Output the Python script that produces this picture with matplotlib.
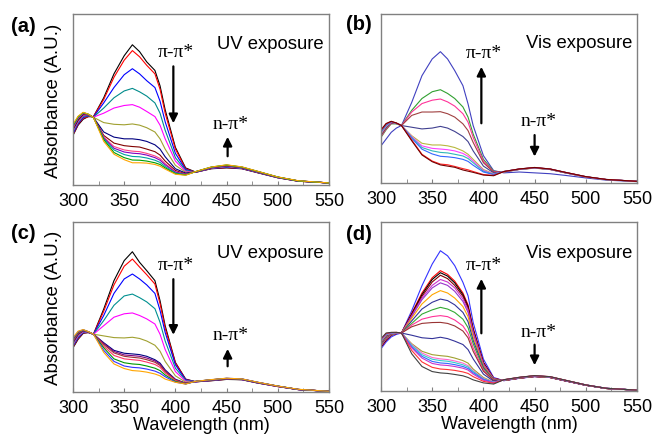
import matplotlib.pyplot as plt

# wavelength grid (nm) shared by every spectrum
wl = [300, 305, 310, 315, 320, 330, 340, 350, 358, 365, 372, 380, 385, 390,
      400, 410, 420, 435, 450, 465, 480, 500, 520, 550]

# (a) UV exposure
spec_a = [
    [.29, .35, .385, .40, .40, .51, .65, .756, .82, .78, .72, .67, .58, .44, .22, .10, .075, .095, .10, .095, .072, .042, .022, .012],
    [.295, .355, .39, .40, .40, .50, .63, .73, .786, .75, .70, .65, .56, .42, .21, .095, .075, .096, .102, .096, .073, .043, .022, .012],
    [.30, .36, .395, .405, .398, .48, .57, .645, .68, .65, .61, .57, .49, .37, .185, .09, .075, .097, .104, .097, .074, .043, .023, .012],
    [.31, .365, .40, .405, .397, .45, .51, .55, .565, .545, .52, .48, .42, .32, .16, .085, .076, .098, .106, .098, .075, .044, .023, .012],
    [.315, .37, .405, .408, .397, .42, .45, .465, .47, .455, .43, .40, .35, .27, .14, .08, .076, .099, .108, .099, .076, .044, .023, .012],
    [.32, .375, .41, .41, .396, .365, .355, .352, .357, .35, .335, .31, .27, .21, .115, .075, .077, .10, .11, .10, .077, .045, .023, .012],
    [.325, .38, .412, .41, .395, .31, .28, .27, .27, .265, .255, .235, .21, .165, .095, .07, .077, .101, .112, .101, .078, .045, .023, .012],
    [.33, .385, .415, .412, .395, .29, .245, .23, .225, .222, .21, .195, .175, .14, .085, .065, .077, .102, .113, .102, .078, .045, .024, .012],
    [.335, .39, .418, .412, .395, .28, .225, .205, .198, .195, .185, .17, .155, .125, .078, .063, .078, .103, .114, .103, .079, .046, .024, .012],
    [.34, .393, .42, .413, .395, .275, .215, .193, .186, .183, .175, .16, .145, .118, .075, .062, .078, .103, .115, .104, .079, .046, .024, .012],
    [.345, .396, .422, .413, .395, .27, .205, .178, .167, .165, .158, .145, .132, .108, .07, .06, .078, .104, .116, .104, .08, .046, .024, .012],
    [.35, .40, .424, .414, .395, .265, .19, .16, .146, .145, .14, .13, .12, .10, .066, .058, .079, .105, .117, .105, .08, .047, .024, .012],
    [.355, .402, .425, .414, .395, .255, .18, .148, .13, .13, .128, .12, .11, .093, .063, .057, .079, .105, .118, .106, .081, .047, .025, .012],
]
colors_a = ['black', 'red', 'blue', '#008b8b', 'magenta', '#a0a030', '#000080',
            '#800000', '#ff4080', '#8000c0', '#00a0a0', '#00a000', '#ffa500']

# (b) Vis exposure
spec_b = [
    [.22, .26, .30, .325, .34, .477, .635, .734, .777, .734, .665, .576, .468, .34, .162, .073, .06, .065, .06, .055, .045, .03, .017, .008],
    [.27, .315, .35, .35, .34, .43, .50, .54, .552, .53, .50, .45, .39, .29, .14, .07, .065, .08, .088, .08, .06, .036, .02, .01],
    [.275, .32, .352, .352, .34, .42, .47, .49, .497, .48, .455, .41, .36, .27, .13, .067, .066, .08, .089, .08, .06, .036, .02, .01],
    [.28, .325, .355, .352, .34, .40, .42, .42, .422, .41, .39, .35, .31, .24, .12, .064, .066, .081, .089, .081, .061, .036, .02, .01],
    [.285, .33, .357, .353, .34, .33, .32, .325, .335, .325, .305, .275, .245, .19, .10, .06, .067, .081, .09, .081, .061, .036, .02, .01],
    [.29, .335, .36, .353, .34, .28, .235, .225, .225, .22, .21, .19, .17, .14, .08, .055, .067, .082, .09, .082, .062, .037, .02, .01],
    [.295, .338, .36, .354, .34, .275, .22, .205, .201, .197, .19, .175, .158, .13, .075, .053, .067, .082, .09, .082, .062, .037, .02, .01],
    [.30, .34, .362, .354, .34, .27, .21, .19, .181, .178, .17, .16, .145, .12, .07, .051, .068, .082, .09, .082, .062, .037, .02, .01],
    [.305, .345, .362, .354, .34, .265, .20, .172, .158, .155, .15, .14, .128, .105, .065, .05, .068, .083, .091, .083, .063, .037, .021, .01],
    [.31, .35, .364, .355, .34, .255, .17, .13, .112, .108, .098, .085, .078, .068, .05, .045, .068, .083, .091, .083, .063, .037, .021, .01],
    [.315, .352, .365, .355, .34, .25, .166, .126, .107, .10, .093, .077, .07, .063, .047, .043, .068, .083, .092, .083, .063, .038, .021, .01],
]
colors_b = ['#4040c0', '#30a030', '#ff3399', '#a04040', '#404090', '#b8b840',
            '#ff40ff', '#30b8b8', '#3366ff', '#ff2020', '#700000']

# (c) UV exposure
spec_c = [
    [.26, .31, .345, .35, .34, .488, .655, .773, .825, .763, .714, .655, .537, .39, .174, .076, .06, .066, .074, .072, .053, .032, .014, .004],
    [.265, .315, .348, .35, .34, .475, .63, .74, .782, .735, .69, .635, .52, .375, .17, .074, .06, .067, .075, .073, .054, .032, .014, .004],
    [.27, .32, .35, .35, .34, .45, .58, .665, .694, .665, .63, .58, .48, .35, .16, .072, .06, .068, .076, .073, .054, .033, .014, .004],
    [.275, .325, .352, .351, .34, .42, .51, .565, .576, .555, .53, .49, .41, .30, .14, .068, .061, .069, .077, .074, .055, .033, .015, .004],
    [.28, .33, .355, .351, .34, .39, .44, .46, .465, .45, .43, .40, .34, .25, .12, .064, .061, .07, .078, .074, .055, .033, .015, .004],
    [.285, .335, .358, .352, .34, .33, .32, .318, .322, .315, .30, .275, .24, .18, .095, .058, .062, .07, .078, .075, .056, .034, .015, .004],
    [.29, .34, .36, .352, .34, .29, .245, .228, .224, .22, .21, .19, .17, .13, .075, .052, .062, .071, .079, .075, .056, .034, .015, .004],
    [.295, .343, .362, .353, .34, .285, .238, .218, .214, .21, .20, .183, .163, .125, .072, .051, .062, .071, .079, .075, .056, .034, .015, .004],
    [.30, .346, .363, .353, .34, .28, .23, .21, .204, .20, .19, .175, .156, .12, .07, .05, .062, .071, .079, .076, .057, .034, .015, .004],
    [.305, .35, .364, .354, .34, .27, .215, .195, .19, .186, .176, .162, .145, .112, .067, .049, .063, .072, .08, .076, .057, .034, .015, .004],
    [.31, .352, .365, .354, .34, .26, .195, .172, .165, .162, .153, .14, .126, .10, .062, .048, .063, .072, .08, .076, .057, .035, .015, .004],
    [.315, .355, .366, .355, .34, .245, .18, .153, .145, .142, .135, .123, .11, .09, .058, .047, .063, .072, .081, .077, .058, .035, .015, .004],
    [.32, .358, .367, .355, .34, .233, .165, .138, .126, .123, .117, .106, .095, .076, .057, .047, .063, .073, .081, .077, .058, .035, .016, .004],
]
colors_c = ['black', 'red', 'blue', '#009090', 'magenta', '#a0a030', '#000080',
            '#800080', '#993333', '#ff3366', '#009900', '#3333ff', '#ffa500']

# (d) Vis exposure
spec_d = [
    [.25, .29, .32, .335, .343, .475, .623, .751, .83, .80, .742, .643, .564, .406, .189, .08, .061, .075, .085, .08, .06, .034, .015, .005],
    [.26, .30, .33, .34, .343, .46, .58, .67, .712, .69, .65, .58, .51, .37, .17, .075, .062, .076, .086, .08, .06, .034, .015, .005],
    [.262, .302, .331, .34, .343, .455, .57, .66, .70, .68, .64, .57, .50, .365, .168, .074, .062, .076, .086, .08, .06, .034, .015, .005],
    [.265, .305, .332, .341, .343, .45, .56, .645, .685, .665, .625, .56, .49, .36, .165, .073, .062, .076, .086, .08, .06, .034, .015, .005],
    [.268, .308, .333, .341, .343, .445, .55, .625, .66, .645, .61, .545, .48, .35, .16, .072, .063, .077, .087, .081, .061, .034, .015, .005],
    [.27, .31, .334, .342, .343, .44, .54, .61, .64, .625, .59, .53, .465, .34, .156, .071, .063, .077, .087, .081, .061, .034, .015, .005],
    [.273, .313, .335, .342, .343, .43, .515, .57, .594, .58, .55, .50, .44, .32, .148, .07, .063, .077, .087, .081, .061, .035, .015, .005],
    [.276, .316, .336, .343, .343, .415, .485, .525, .544, .535, .51, .465, .41, .30, .14, .068, .064, .078, .088, .082, .061, .035, .015, .005],
    [.279, .319, .337, .343, .343, .40, .455, .48, .495, .485, .465, .425, .375, .28, .132, .066, .064, .078, .088, .082, .062, .035, .015, .005],
    [.282, .322, .338, .344, .343, .39, .425, .44, .446, .44, .42, .385, .34, .255, .124, .064, .064, .078, .088, .082, .062, .035, .015, .005],
    [.285, .325, .339, .344, .343, .38, .40, .405, .406, .40, .385, .355, .315, .235, .117, .062, .065, .079, .089, .083, .062, .035, .015, .005],
    [.288, .328, .34, .345, .343, .33, .315, .31, .318, .31, .295, .275, .245, .19, .10, .058, .065, .079, .089, .083, .062, .035, .016, .005],
    [.291, .331, .341, .345, .343, .28, .235, .215, .209, .205, .195, .18, .165, .13, .08, .053, .065, .079, .089, .083, .063, .036, .016, .005],
    [.294, .333, .342, .345, .343, .275, .225, .198, .19, .186, .178, .165, .15, .12, .075, .052, .066, .08, .09, .084, .063, .036, .016, .005],
    [.297, .335, .343, .346, .343, .27, .215, .188, .18, .176, .168, .155, .142, .115, .072, .051, .066, .08, .09, .084, .063, .036, .016, .005],
    [.30, .337, .344, .346, .343, .262, .205, .175, .166, .163, .156, .145, .133, .108, .068, .05, .066, .08, .09, .084, .063, .036, .016, .005],
    [.303, .339, .345, .346, .343, .255, .195, .163, .154, .151, .145, .135, .124, .10, .064, .049, .066, .08, .09, .084, .063, .036, .016, .005],
    [.306, .341, .346, .347, .343, .24, .172, .14, .13, .127, .122, .113, .104, .085, .057, .046, .067, .081, .091, .085, .064, .036, .016, .005],
    [.31, .343, .347, .347, .343, .22, .145, .115, .107, .104, .098, .09, .08, .066, .048, .041, .067, .081, .091, .085, .064, .036, .016, .005],
]
colors_d = ['#3333ff', 'red', 'black', '#800000', '#cc33cc', '#9933cc', '#ffa500',
            '#333399', '#33aa33', '#ff3399', '#993333', '#333399', '#a0a030',
            '#ff66cc', '#33cccc', '#3366ff', '#cc33cc', '#ff3333', '#404040']

panel_labels = ['(a)', '(b)', '(c)', '(d)']
exposure = ['UV exposure', 'Vis exposure', 'UV exposure', 'Vis exposure']

sans = 'Liberation Sans'
serif = 'Liberation Serif'

fig = plt.figure(figsize=(6.55, 4.35), dpi=100)
boxes = [
    [73 / 655, 1 - 186 / 435, 256 / 655, 171 / 435],
    [381 / 655, 1 - 184 / 435, 256 / 655, 169 / 435],
    [73 / 655, 1 - 393 / 435, 256 / 655, 170 / 435],
    [381 / 655, 1 - 392 / 435, 256 / 655, 169 / 435],
]
specs = [spec_a, spec_b, spec_c, spec_d]
cols = [colors_a, colors_b, colors_c, colors_d]

# arrow ends (start y, end y) for pi-pi* and n-pi* in axes units
pp_arrow = [(.71, .345), (.337, .704), (.68, .32), (.325, .68)]
np_arrow = [(.152, .298), (.30, .14), (.135, .27), (.29, .136)]
pp_text_y = [.78, .775, .75, .75]
np_text_y = [.357, .367, .34, .355]

for i in range(4):
    ax = fig.add_axes(boxes[i])
    for y, c in zip(specs[i], cols[i]):
        ax.plot(wl, y, color=c, lw=0.8)
    ax.set_xlim(300, 550)
    ax.set_ylim(0, 1)
    ax.set_yticks([])
    ax.set_xticks([300, 350, 400, 450, 500, 550])
    ax.set_xticks([325, 375, 425, 475, 525], minor=True)
    ax.tick_params(axis='x', which='both', direction='in', length=3,
                   color='#808080', labelsize=13, pad=5)
    for lab in ax.get_xticklabels():
        lab.set_family(sans)
    for s in ax.spines.values():
        s.set_color('#808080')
        s.set_linewidth(1.0)

    ax.text(545, .83 if i < 2 else .82, exposure[i], ha='right', va='center',
            fontsize=13.3, family=sans)
    ax.text(400, pp_text_y[i], 'π-π*', ha='center', va='center',
            fontsize=14, family=serif)
    ax.text(454, np_text_y[i], 'n-π*', ha='center', va='center',
            fontsize=14, family=serif)
    xa = 398
    xb = 451 if i % 2 == 0 else 450
    ax.annotate('', xy=(xa, pp_arrow[i][1]), xytext=(xa, pp_arrow[i][0]),
                arrowprops=dict(arrowstyle='-|>', color='black', lw=1.6,
                                mutation_scale=13))
    ax.annotate('', xy=(xb, np_arrow[i][1]), xytext=(xb, np_arrow[i][0]),
                arrowprops=dict(arrowstyle='-|>', color='black', lw=1.6,
                                mutation_scale=13))

    if i % 2 == 0:
        ax.set_ylabel('Absorbance (A.U.)', fontsize=13.5, family=sans, labelpad=8)
    if i >= 2:
        ax.set_xlabel('Wavelength (nm)', fontsize=13, family=sans, labelpad=0)

label_pos = [(11, 27), (346, 25), (11, 234), (346, 235)]
for lab, (px, py) in zip(panel_labels, label_pos):
    fig.text(px / 655, 1 - py / 435, lab, ha='left', va='center',
             fontsize=14.5, fontweight='bold', family=sans)

fig.savefig('out.png', dpi=100)
